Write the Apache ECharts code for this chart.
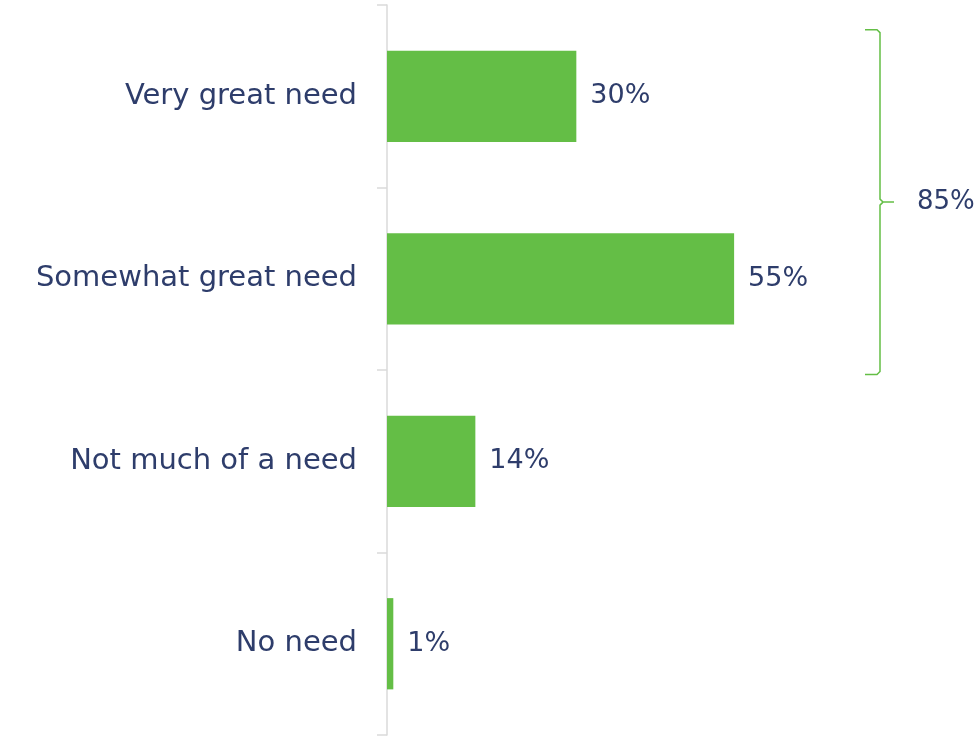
<!DOCTYPE html>
<html>
<head>
<meta charset="utf-8">
<script src="https://cdn.jsdelivr.net/npm/echarts@6/dist/echarts.min.js"></script>
<style>
  html, body { margin: 0; padding: 0; background: #fff; }
  #chart { width: 975px; height: 736px; }
</style>
</head>
<body>
<div id="chart"></div>
<script>
// Survey answers, top to bottom
const categories = ['Very great need', 'Somewhat great need', 'Not much of a need', 'No need'];
const shares = [30, 55, 14, 1];
// Combined share of the first two answers, shown beside the bracket
const bracketLabel = '85%';

const TEXT = '#2E3D6B';
const GREEN = '#64BE46';
const FONT = '"DejaVu Sans", sans-serif';

const chart = echarts.init(document.getElementById('chart'));

chart.setOption({
  animation: false,
  grid: { left: 387, right: 20, top: 5, bottom: 1, containLabel: false },
  xAxis: {
    type: 'value', min: 0, max: 90,
    show: false
  },
  yAxis: {
    type: 'category',
    data: categories,
    inverse: true,
    axisLine: { show: true, lineStyle: { color: '#DADADA', width: 1.5 } },
    axisTick: { show: true, length: 10, lineStyle: { color: '#DADADA', width: 1.5 } },
    axisLabel: { color: TEXT, fontFamily: FONT, fontSize: 29, margin: 30 },
    splitLine: { show: false }
  },
  series: [{
    type: 'bar',
    data: shares,
    barCategoryGap: '50%',
    itemStyle: { color: GREEN },
    label: {
      show: true, position: 'right', distance: 14,
      formatter: p => p.value + '%',
      color: TEXT, fontFamily: FONT, fontSize: 27
    }
  }]
});

// Brace spanning the first two answers, positioned from the category scale
function drawBracket() {
  const yTop = chart.convertToPixel({ yAxisIndex: 0 }, 0);
  const yNext = chart.convertToPixel({ yAxisIndex: 0 }, 1);
  const band = yNext - yTop;
  const top = yTop - band * 0.365;
  const bottom = yNext + band * 0.525;
  const mid = (top + bottom) / 2;
  const x = 880;
  chart.setOption({
    graphic: [
      {
        type: 'polyline',
        shape: { points: [[x - 15, top], [x - 3, top], [x, top + 3], [x, mid - 3], [x + 3, mid], [x + 14, mid]] },
        style: { stroke: GREEN, lineWidth: 1.5, fill: null }
      },
      {
        type: 'polyline',
        shape: { points: [[x + 3, mid], [x, mid + 3], [x, bottom - 3], [x - 3, bottom], [x - 15, bottom]] },
        style: { stroke: GREEN, lineWidth: 1.5, fill: null }
      },
      {
        type: 'text',
        x: x + 37, y: mid,
        style: { text: bracketLabel, fill: TEXT, font: '26px ' + FONT, textVerticalAlign: 'middle' }
      }
    ]
  });
}
drawBracket();
</script>
</body>
</html>
